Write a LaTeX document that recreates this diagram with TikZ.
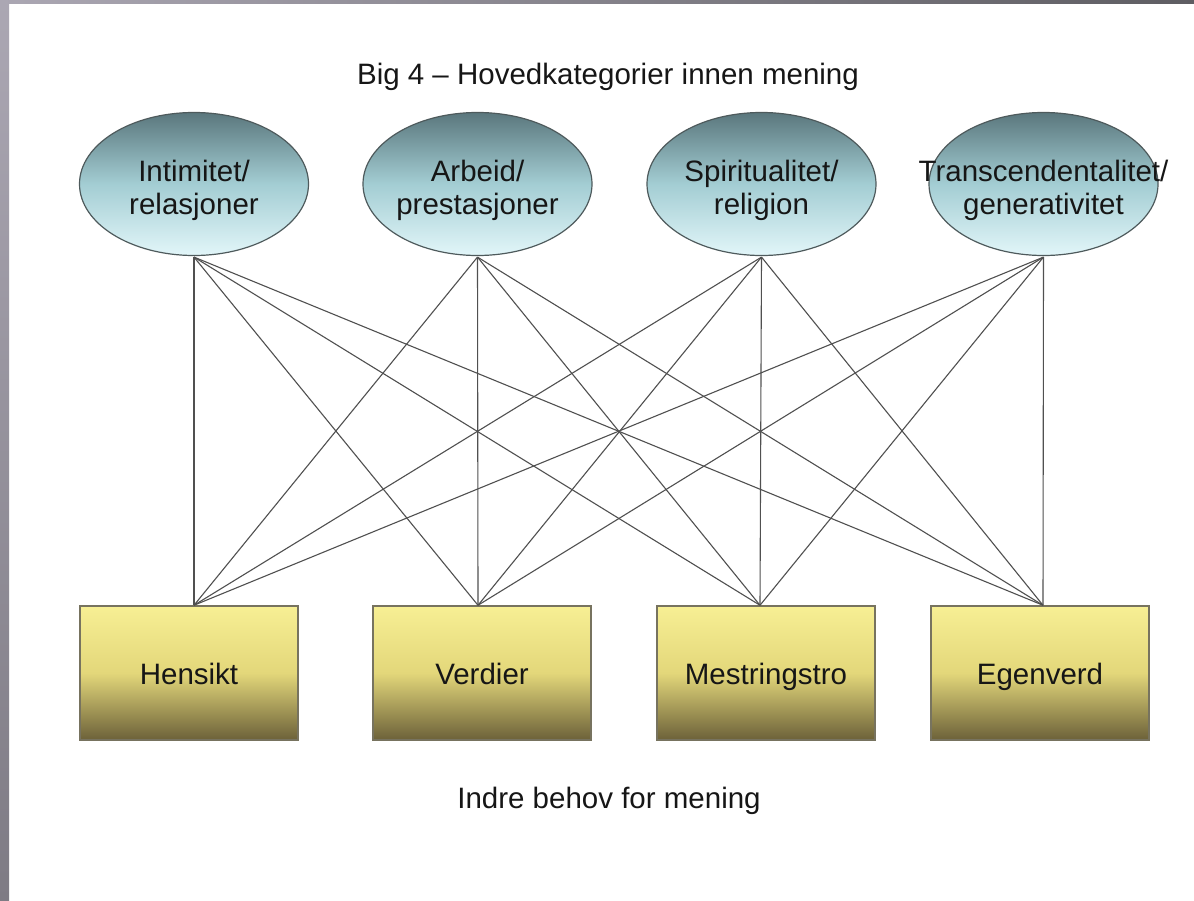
\documentclass[tikz,border=0pt]{standalone}
\usepackage{fontspec}
\setmainfont{Liberation Sans}
\usetikzlibrary{shapes.geometric}
\definecolor{linec}{HTML}{505050}
\definecolor{elltop}{HTML}{5A777D}
\definecolor{ellmid}{HTML}{A3CDD3}
\definecolor{ellbot}{HTML}{E2F6F9}
\definecolor{ellborder}{HTML}{4E5A5C}
\definecolor{boxtop}{HTML}{F7EF94}
\definecolor{boxmid}{HTML}{E3D77A}
\definecolor{boxbot}{HTML}{6C6139}
\definecolor{boxborder}{HTML}{77735F}
\definecolor{txt}{HTML}{161616}
\definecolor{stripA}{HTML}{ABA7B3}
\definecolor{stripB}{HTML}{7E7B84}
\definecolor{stripC}{HTML}{5E5D62}
\begin{document}
\begin{tikzpicture}[x=1pt,y=-1pt,
  bigfont/.style={font=\fontsize{29.5}{33}\selectfont},
  cat/.style={ellipse, draw=ellborder, line width=1.2pt, minimum width=229pt, minimum height=143pt, inner sep=0pt,
    shading=axis, top color=elltop, bottom color=ellbot, middle color=ellmid},
  catlbl/.style={bigfont, align=center, text=txt, yshift=-6pt},
  need/.style={rectangle, draw=boxborder, line width=1.5pt, minimum width=218pt, minimum height=134pt, inner sep=0pt,
    shading=axis, top color=boxtop, bottom color=boxbot, middle color=boxmid, bigfont, text=txt,
    text height=26pt, text depth=4pt},
  link/.style={draw=linec, line width=1.1pt},
  plain/.style={bigfont, text=txt}
]
\useasboundingbox (0,0) rectangle (1194,901);
\fill[white] (0,0) rectangle (1194,901);
\shade[top color=stripA, bottom color=stripB] (0,0) rectangle (9,901);
\shade[left color=stripA, right color=stripC] (0,0) rectangle (1194,3.5);

\node[plain, anchor=base] (title) at (608,85) {Big 4 – Hovedkategorier innen mening};
\node[plain, anchor=base] (foot) at (609,808) {Indre behov for mening};

\node[cat, label={[catlbl, name=t1]center:Intimitet/\\relasjoner}] (e1) at (194,184) {};
\node[cat, label={[catlbl, name=t2]center:Arbeid/\\prestasjoner}] (e2) at (477.5,184) {};
\node[cat, label={[catlbl, name=t3]center:Spiritualitet/\\religion}] (e3) at (761.5,184) {};
\node[cat, label={[catlbl, name=t4]center:Transcendentalitet/\\generativitet}] (e4) at (1043.5,184) {};

\node[need] (b1) at (189,673) {Hensikt};
\node[need] (b2) at (482,673) {Verdier};
\node[need] (b3) at (766,673) {Mestringstro};
\node[need] (b4) at (1040,673) {Egenverd};

\coordinate (p1) at ([xshift=5pt]b1.north);
\coordinate (p2) at ([xshift=-4pt]b2.north);
\coordinate (p3) at ([xshift=-6pt]b3.north);
\coordinate (p4) at ([xshift=3pt]b4.north);

\foreach \e in {1,2,3,4}{
  \foreach \b in {1,2,3,4}{
    \draw[link] ([yshift=-1pt]e\e.south) -- (p\b);
  }
}
\end{tikzpicture}
\end{document}
